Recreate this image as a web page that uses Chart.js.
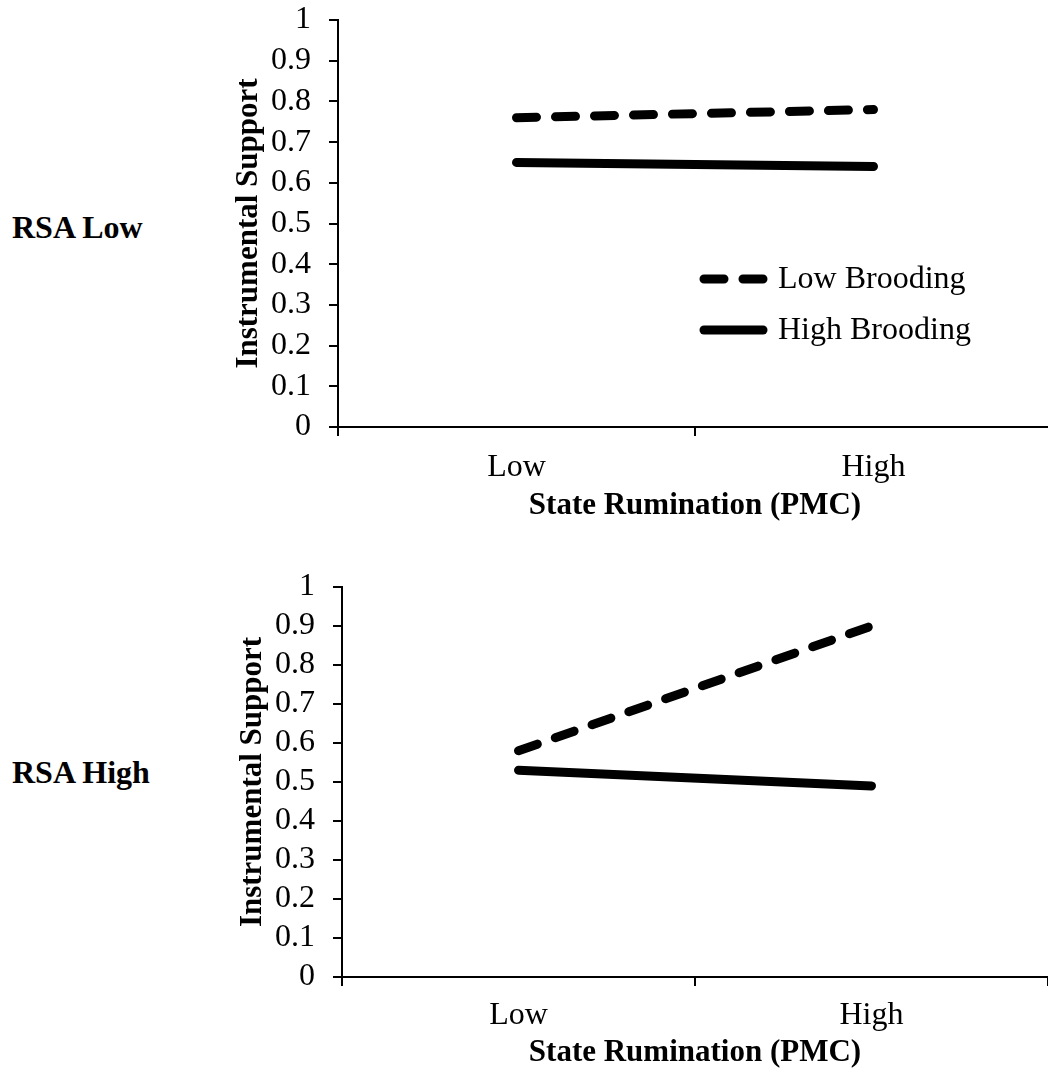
<!DOCTYPE html>
<html>
<head>
<meta charset="utf-8">
<script src="https://cdn.jsdelivr.net/npm/chart.js@4.4.1/dist/chart.umd.min.js"></script>
<style>
  html, body { margin: 0; padding: 0; background: #fff; overflow: hidden; }
  body { width: 1048px; height: 1078px; position: relative; }
  canvas { position: absolute; left: 0; }
  #topChart { top: 0; }
  #bottomChart { top: 560px; }
  .rsa { position: absolute; left: 12px; font: bold 32px "Liberation Serif", "Times New Roman", serif; color: #000; }
</style>
</head>
<body>
<div class="rsa" style="top:209px">RSA Low</div>
<div class="rsa" style="top:754px">RSA High</div>
<canvas id="topChart" width="1060" height="540"></canvas>
<canvas id="bottomChart" width="1060" height="518"></canvas>
<script>
const categories = ['Low', 'High'];
const seriesNames = ['Low Brooding', 'High Brooding'];

// RSA Low panel
const rsaLowLowBrooding = [0.76, 0.78];
const rsaLowHighBrooding = [0.65, 0.64];

// RSA High panel
const rsaHighLowBrooding = [0.58, 0.90];
const rsaHighHighBrooding = [0.53, 0.49];

const yTicks = [0, 0.1, 0.2, 0.3, 0.4, 0.5, 0.6, 0.7, 0.8, 0.9, 1];

const FONT = '"Liberation Serif", "Times New Roman", serif';
Chart.defaults.font.family = FONT;
Chart.defaults.font.size = 32;
Chart.defaults.color = '#000';

// draws the little legend box inside the top chart
const fixedLegend = {
    id: 'fixedLegend',
    afterDraw(chart, args, opts) {
        if (!opts.show) return;
        const ctx = chart.ctx;
        ctx.save();
        chart.data.datasets.forEach((ds, i) => {
            const y = opts.y + i * opts.step;
            ctx.beginPath();
            ctx.lineWidth = ds.borderWidth;
            ctx.lineCap = 'round';
            ctx.strokeStyle = ds.borderColor;
            ctx.setLineDash(ds.borderDash || []);
            ctx.moveTo(opts.x, y);
            ctx.lineTo(opts.x + 59, y);
            ctx.stroke();
            ctx.setLineDash([]);
            ctx.fillStyle = '#000';
            ctx.font = '32px ' + FONT;
            ctx.textBaseline = 'middle';
            ctx.textAlign = 'left';
            ctx.fillText(ds.label, opts.x + 74, y + 1);
        });
        ctx.restore();
    }
};

function makeChart(id, lowB, highB, cfg) {
    return new Chart(document.getElementById(id), {
        type: 'line',
        data: {
            labels: categories,
            datasets: [{
                label: seriesNames[0],
                data: lowB,
                borderColor: '#000',
                borderWidth: 9,
                borderDash: [20, 19],
                borderCapStyle: 'round',
                pointRadius: 0,
                fill: false
            }, {
                label: seriesNames[1],
                data: highB,
                borderColor: '#000',
                borderWidth: 9,
                borderCapStyle: 'round',
                pointRadius: 0,
                fill: false
            }]
        },
        options: {
            responsive: false,
            animation: false,
            devicePixelRatio: 1,
            layout: { padding: { left: cfg.padLeft, top: cfg.padTop, right: cfg.padRight, bottom: 0 } },
            plugins: {
                legend: { display: false },
                tooltip: { enabled: false },
                fixedLegend: cfg.legend
            },
            scales: {
                x: {
                    type: 'category',
                    offset: true,
                    grid: { offset: true, drawOnChartArea: false, drawTicks: true, tickLength: 9, color: '#000', lineWidth: 2 },
                    border: { color: '#000', width: 2 },
                    ticks: { padding: cfg.xPad, font: { size: 32 }, maxRotation: 0 },
                    title: { display: true, text: 'State Rumination (PMC)', font: { size: 31, weight: 'bold' }, padding: { top: 0, bottom: cfg.titlePadB } },
                    afterFit: (s) => { s.height = cfg.xHeight; s.paddingLeft = 0; s.paddingRight = 0; }
                },
                y: {
                    min: 0,
                    max: 1,
                    afterBuildTicks: (s) => { s.ticks = yTicks.map(v => ({ value: v })); },
                    grid: { drawOnChartArea: false, drawTicks: true, tickLength: 9, color: '#000', lineWidth: 2 },
                    border: { color: '#000', width: 2 },
                    ticks: { autoSkip: false, padding: 18, font: { size: 32 }, callback: (v) => String(Math.round(v * 10) / 10) },
                    title: { display: true, text: 'Instrumental Support', font: { size: 31, weight: 'bold' }, padding: { top: 10, bottom: 0 } },
                    afterFit: (s) => { s.width = 118; s.paddingTop = 0; s.paddingBottom = 0; }
                }
            }
        },
        plugins: [fixedLegend]
    });
}

makeChart('topChart', rsaLowLowBrooding, rsaLowHighBrooding, {
    padLeft: 220, padTop: 20, padRight: 8, xPad: 12, titlePadB: 15, xHeight: 113,
    legend: { show: true, x: 704, y: 279, step: 51 }
});

makeChart('bottomChart', rsaHighLowBrooding, rsaHighHighBrooding, {
    padLeft: 224, padTop: 27, padRight: 12, xPad: 10, titlePadB: 6, xHeight: 101,
    legend: { show: false }
});
</script>
</body>
</html>
